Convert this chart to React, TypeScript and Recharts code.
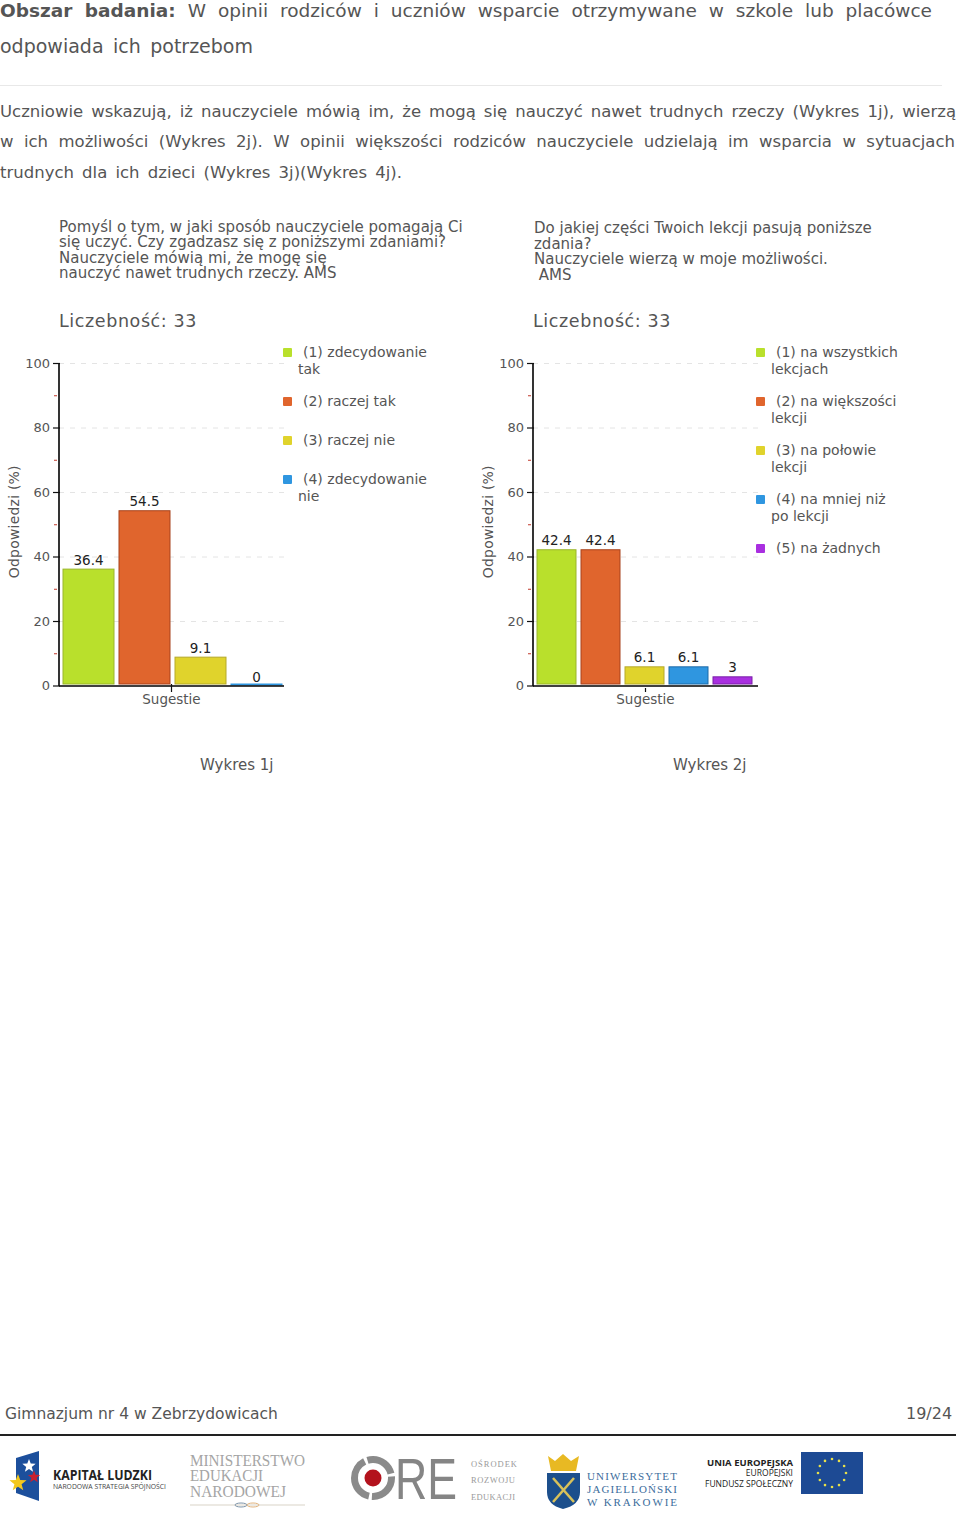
import { Bar, BarChart, CartesianGrid, LabelList, Legend, XAxis, YAxis } from "recharts";

const FONT = "'DejaVu Sans', Verdana, sans-serif";
const TEXT = "#555";

const axisTicks = [0, 10, 20, 30, 40, 50, 60, 70, 80, 90, 100];
const gridValues = [20, 40, 60, 80, 100];
const category = "Sugestie";
const yLabel = "Odpowiedzi (%)";

const names1 = ["(1) zdecydowanie tak", "(2) raczej tak", "(3) raczej nie", "(4) zdecydowanie nie"];
const values1 = [36.4, 54.5, 9.1, 0];
const names2 = [
  "(1) na wszystkich lekcjach",
  "(2) na większości lekcji",
  "(3) na połowie lekcji",
  "(4) na mniej niż po lekcji",
  "(5) na żadnych",
];
const values2 = [42.4, 42.4, 6.1, 6.1, 3];

const fills = ["#b9e02c", "#e0652d", "#e0d32c", "#2f96e0", "#a92fe0"];
const strokes = ["#9ab52c", "#a8431c", "#b5a92a", "#1d6ba8", "#7a1fa8"];

const title1 = [
  "Pomyśl o tym, w jaki sposób nauczyciele pomagają Ci",
  "się uczyć. Czy zgadzasz się z poniższymi zdaniami?",
  "Nauczyciele mówią mi, że mogę się",
  "nauczyć nawet trudnych rzeczy. AMS",
];
const title2 = [
  "Do jakiej części Twoich lekcji pasują poniższe",
  "zdania?",
  "Nauczyciele wierzą w moje możliwości.",
  " AMS",
];

function YTick({ x, y, payload }: any) {
  const major = payload.value % 20 === 0;
  if (!major) {
    return <line x1={x - 3} x2={x} y1={y} y2={y} stroke="#c0392b" strokeWidth={1} />;
  }
  return (
    <g>
      <line x1={x - 4} x2={x + 3} y1={y} y2={y} stroke="#111" strokeWidth={1.2} />
      <text x={x - 7} y={y + 4} textAnchor="end" fontSize={13} fontFamily={FONT} fill={TEXT}>
        {payload.value}
      </text>
    </g>
  );
}

function XTick({ x, y, payload, rise }: any) {
  return (
    <g>
      <line x1={x} x2={x} y1={y - rise} y2={y + 4} stroke="#111" strokeWidth={1.2} />
      <text x={x} y={y + 16} textAnchor="middle" fontSize={13.5} fontFamily={FONT} fill={TEXT}>
        {payload.value}
      </text>
    </g>
  );
}

// bars stop just short of the axis, zero values still show as a thin line
function BarShape({ x, y, width, height, fill, stroke }: any) {
  if (height <= 0) {
    return <rect x={x} y={y - 2.5} width={width} height={2} fill={fill} />;
  }
  return <rect x={x + 0.5} y={y + 0.5} width={width - 1} height={height - 2.5} fill={fill} stroke={stroke} />;
}

function LegendList({ payload }: any) {
  return (
    <div style={{ fontFamily: FONT, fontSize: 14, lineHeight: "16.5px", color: TEXT }}>
      {(payload || []).map((item: any) => (
        <div
          key={item.value}
          style={{
            position: "relative",
            boxSizing: "border-box",
            width: 147,
            minHeight: 39,
            paddingLeft: 15,
            paddingBottom: 16,
            textIndent: 5,
          }}
        >
          <span
            style={{
              position: "absolute",
              left: 0,
              top: 4,
              width: 9,
              height: 9,
              borderRadius: 1,
              background: item.color,
            }}
          />
          {item.value}
        </div>
      ))}
    </div>
  );
}

function SurveyChart({
  left,
  names,
  values,
  rise,
  legendLeft,
}: {
  left: number;
  names: string[];
  values: number[];
  rise: number;
  legendLeft: number;
}) {
  const row: Record<string, string | number> = { category };
  values.forEach((value, i) => {
    row[`s${i}`] = value;
  });
  return (
    <div style={{ position: "absolute", left, top: 340 }}>
      <BarChart
        width={470}
        height={380}
        data={[row]}
        margin={{ top: 23.5, right: 186, bottom: 0, left: 0 }}
        barCategoryGap={3.5}
        barGap={4}
      >
        <CartesianGrid
          vertical={false}
          horizontalValues={gridValues}
          stroke="#e4e4e4"
          strokeDasharray="5 6"
        />
        <XAxis
          dataKey="category"
          height={34}
          tickSize={0}
          tickLine={false}
          axisLine={{ stroke: "#000", strokeWidth: 1.6 }}
          tick={<XTick rise={rise} />}
        />
        <YAxis
          width={59}
          domain={[0, 100]}
          ticks={axisTicks}
          interval={0}
          tickSize={0}
          tickLine={false}
          axisLine={{ stroke: "#000", strokeWidth: 1.6 }}
          tick={<YTick />}
          label={{
            value: yLabel,
            angle: -90,
            position: "insideLeft",
            offset: 0,
            dx: 14,
            dy: -3,
            fontSize: 14,
            fontFamily: FONT,
            fill: TEXT,
            style: { textAnchor: "middle", letterSpacing: "0.2px" },
          }}
        />
        <Legend
          layout="horizontal"
          verticalAlign="middle"
          content={<LegendList />}
          wrapperStyle={{ left: legendLeft, top: 4, width: 170 }}
        />
        {values.map((_, i) => (
          <Bar
            key={i}
            dataKey={`s${i}`}
            name={names[i]}
            fill={fills[i]}
            stroke={strokes[i]}
            shape={<BarShape />}
            isAnimationActive={false}
          >
            <LabelList
              dataKey={`s${i}`}
              position="top"
              offset={4}
              fontSize={13.5}
              fontFamily={FONT}
              fill="#222"
            />
          </Bar>
        ))}
      </BarChart>
    </div>
  );
}

function Line({ x, y, width, size, children, justify, style }: any) {
  return (
    <div
      style={{
        position: "absolute",
        left: x,
        top: y,
        width,
        fontFamily: FONT,
        fontSize: size,
        lineHeight: "20px",
        color: TEXT,
        whiteSpace: justify ? "normal" : "pre",
        textAlign: justify ? "justify" : undefined,
        textAlignLast: justify ? "justify" : undefined,
        ...style,
      }}
    >
      {children}
    </div>
  );
}

function starPoints(cx: number, cy: number, r: number) {
  const points: string[] = [];
  for (let i = 0; i < 10; i++) {
    const radius = i % 2 === 0 ? r : r * 0.42;
    const angle = -Math.PI / 2 + (i * Math.PI) / 5;
    points.push(`${cx + radius * Math.cos(angle)},${cy + radius * Math.sin(angle)}`);
  }
  return points.join(" ");
}

function Logos() {
  const euStars = [0, 30, 60, 90, 120, 150, 180, 210, 240, 270, 300, 330];
  return (
    <svg width={960} height={95} viewBox="0 1430 960 95" style={{ position: "absolute", left: 0, top: 1430 }}>
      <polygon points="16,1458 39,1451 39,1501 16,1493" fill="#1c4f9c" />
      <polygon points={starPoints(29, 1466, 7)} fill="#fff" />
      <polygon points={starPoints(18, 1483, 9)} fill="#f2c81e" />
      <polygon points={starPoints(34, 1477, 6.5)} fill="#c8202f" />
      <text x={53} y={1480} fontSize={13.5} fontWeight={700} fontFamily="'Open Sans'" fill="#222" textLength={99} lengthAdjust="spacingAndGlyphs">
        KAPITAŁ LUDZKI
      </text>
      <text x={53} y={1489} fontSize={7} fontFamily="'Open Sans'" fill="#444" textLength={113} lengthAdjust="spacingAndGlyphs">
        NARODOWA STRATEGIA SPÓJNOŚCI
      </text>

      <g fontFamily="'Liberation Serif'" fontSize={16} fill="#a5a5a5">
        <text x={190} y={1466} textLength={115} lengthAdjust="spacingAndGlyphs">MINISTERSTWO</text>
        <text x={190} y={1481} textLength={73} lengthAdjust="spacingAndGlyphs">EDUKACJI</text>
        <text x={190} y={1497} textLength={96} lengthAdjust="spacingAndGlyphs">NARODOWEJ</text>
      </g>
      <line x1={190} x2={305} y1={1505} y2={1505} stroke="#d9d4c8" strokeWidth={1.2} />
      <ellipse cx={241} cy={1505} rx={6} ry={2} fill="none" stroke="#7c93a8" />
      <ellipse cx={253} cy={1505} rx={6} ry={2} fill="none" stroke="#e0b27c" />

      <circle cx={373} cy={1478} r={18.5} fill="none" stroke="#8a8a8a" strokeWidth={7} strokeDasharray="30 3 45 3" />
      <circle cx={373} cy={1478} r={8.5} fill="#b3121d" />
      <text x={395} y={1499} fontSize={57} fontFamily="'Liberation Sans'" fill="#858585" textLength={62} lengthAdjust="spacingAndGlyphs">
        RE
      </text>
      <g fontFamily="'Liberation Serif'" fontSize={8.5} fill="#9a9a9a">
        <text x={471} y={1467} textLength={46}>OŚRODEK</text>
        <text x={471} y={1483} textLength={44}>ROZWOJU</text>
        <text x={471} y={1500} textLength={44}>EDUKACJI</text>
      </g>

      <polygon points="548,1456 555,1461 563,1454 571,1461 579,1456 576,1471 551,1471" fill="#e8b923" />
      <path d="M547,1473 H580 V1492 Q580,1505 563,1509 Q547,1505 547,1492 Z" fill="#1c4f8c" />
      <line x1={553} x2={574} y1={1478} y2={1502} stroke="#d9c25a" strokeWidth={2.5} />
      <line x1={574} x2={553} y1={1478} y2={1502} stroke="#d9c25a" strokeWidth={2.5} />
      <g fontFamily="'Liberation Serif'" fontSize={11} fill="#3c6d9c">
        <text x={587} y={1480} textLength={90}>UNIWERSYTET</text>
        <text x={587} y={1493} textLength={90}>JAGIELLOŃSKI</text>
        <text x={587} y={1506} textLength={90}>W KRAKOWIE</text>
      </g>

      <g fontFamily="'Open Sans'" textAnchor="end" fill="#222">
        <text x={793} y={1466} fontSize={9.5} fontWeight={700}>UNIA EUROPEJSKA</text>
        <text x={793} y={1476} fontSize={8.5}>EUROPEJSKI</text>
        <text x={793} y={1487} fontSize={8.5}>FUNDUSZ SPOŁECZNY</text>
      </g>
      <rect x={801} y={1452} width={62} height={42} fill="#1d4a94" />
      {euStars.map((deg) => (
        <circle
          key={deg}
          cx={832 + 14 * Math.cos((deg * Math.PI) / 180)}
          cy={1473 + 14 * Math.sin((deg * Math.PI) / 180)}
          r={1.3}
          fill="#e8e04a"
        />
      ))}
    </svg>
  );
}

export default function App() {
  return (
    <div style={{ position: "absolute", left: 0, top: 0, width: 960, height: 1523, background: "#fff", overflow: "hidden" }}>
      <Line x={0} y={1} width={932} size={18.5} justify>
        <b>Obszar badania:</b> W opinii rodziców i uczniów wsparcie otrzymywane w szkole lub placówce
      </Line>
      <Line x={0} y={36} width={253} size={19} justify>odpowiada ich potrzebom</Line>
      <div style={{ position: "absolute", left: 0, top: 85, width: 942, height: 1, background: "#e8e8e8" }} />

      <Line x={0} y={102} width={956} size={16.5} justify>
        Uczniowie wskazują, iż nauczyciele mówią im, że mogą się nauczyć nawet trudnych rzeczy (Wykres 1j), wierzą
      </Line>
      <Line x={0} y={132} width={955} size={16.5} justify>
        w ich możliwości (Wykres 2j). W opinii większości rodziców nauczyciele udzielają im wsparcia w sytuacjach
      </Line>
      <Line x={0} y={163} width={402} size={16.5} justify>trudnych dla ich dzieci (Wykres 3j)(Wykres 4j).</Line>

      {title1.map((line, i) => (
        <Line key={i} x={59} y={217 + i * 15.4} size={15}>{line}</Line>
      ))}
      {title2.map((line, i) => (
        <Line key={i} x={534} y={218 + i * 15.6} size={15}>{line}</Line>
      ))}
      <Line x={59} y={311} size={17.5} style={{ letterSpacing: "0.6px" }}>Liczebność: 33</Line>
      <Line x={533} y={311} size={17.5} style={{ letterSpacing: "0.6px" }}>Liczebność: 33</Line>

      <SurveyChart left={0} names={names1} values={values1} rise={4} legendLeft={283} />
      <SurveyChart left={474} names={names2} values={values2} rise={0} legendLeft={282} />

      <Line x={200} y={755} size={15}>Wykres 1j</Line>
      <Line x={673} y={755} size={15}>Wykres 2j</Line>

      <Line x={5} y={1404} size={15.5}>Gimnazjum nr 4 w Zebrzydowicach</Line>
      <Line x={906} y={1404} size={16}>19/24</Line>
      <div style={{ position: "absolute", left: 0, top: 1434, width: 956, height: 2, background: "#222" }} />
      <Logos />
    </div>
  );
}
